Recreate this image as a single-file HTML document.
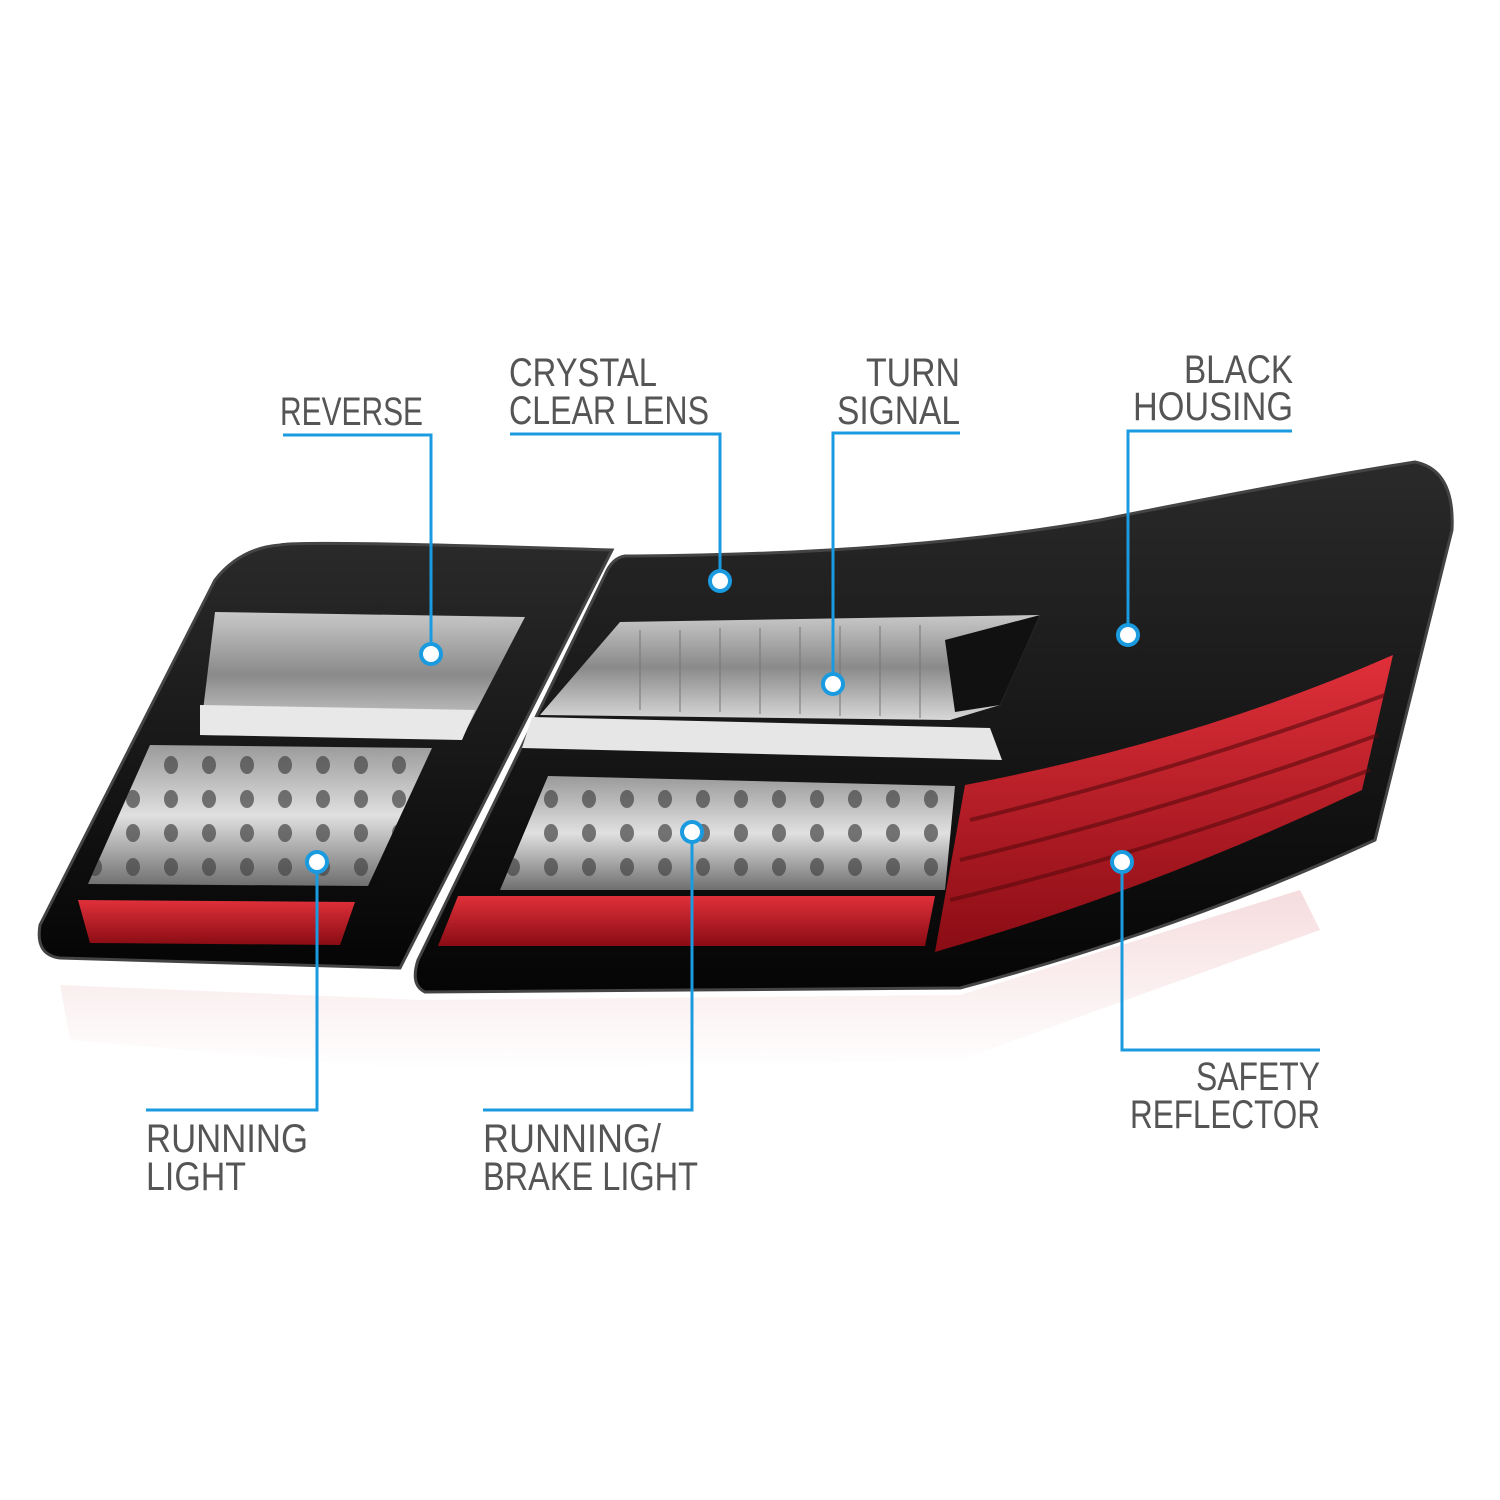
<!DOCTYPE html>
<html><head><meta charset="utf-8"><style>
html,body{margin:0;padding:0;background:#fff;}
svg{display:block;}
text{font-family:"Liberation Sans",sans-serif;font-size:40px;fill:#555;}
</style></head><body>
<svg width="1500" height="1500" viewBox="0 0 1500 1500" xmlns="http://www.w3.org/2000/svg">
<defs>
<linearGradient id="clear" x1="0" y1="0" x2="0" y2="1"><stop offset="0" stop-color="#c8c8c8"/><stop offset="0.5" stop-color="#8a8a8a"/><stop offset="1" stop-color="#d8d8d8"/></linearGradient>
<linearGradient id="led" x1="0" y1="0" x2="0" y2="1"><stop offset="0" stop-color="#9a9a9a"/><stop offset="0.5" stop-color="#e0e0e0"/><stop offset="1" stop-color="#6f6f6f"/></linearGradient>
<linearGradient id="red" x1="0" y1="0" x2="0" y2="1"><stop offset="0" stop-color="#e0303a"/><stop offset="1" stop-color="#8a0c14"/></linearGradient>
<linearGradient id="refl" x1="0" y1="0" x2="0" y2="1"><stop offset="0" stop-color="#f3d4d6"/><stop offset="1" stop-color="#ffffff"/></linearGradient>
<linearGradient id="blk" x1="0" y1="0" x2="0" y2="1"><stop offset="0" stop-color="#2a2a2a"/><stop offset="1" stop-color="#050505"/></linearGradient>
<pattern id="dots" width="38" height="34" patternUnits="userSpaceOnUse"><ellipse cx="19" cy="17" rx="7" ry="9" fill="#444" opacity="0.7"/></pattern>
</defs>
<path d="M60 985 L420 1000 L960 995 L1300 890 L1320 930 L960 1060 L420 1070 L70 1040 Z" fill="url(#refl)" opacity="0.8"/>
<!-- left housing -->
<path d="M280 545 Q300 540 612 550 L400 968 L60 958 Q35 955 40 925 L215 580 Q240 548 280 545 Z" fill="url(#blk)" stroke="#444" stroke-width="3"/>
<path d="M215 612 L525 617 L462 738 L200 735 Z" fill="url(#clear)"/>
<path d="M200 705 L475 710 L462 740 L200 735 Z" fill="#e8e8e8"/>
<path d="M150 745 L432 748 L368 886 L88 884 Z" fill="url(#led)"/>
<path d="M150 745 L432 748 L368 886 L88 884 Z" fill="url(#dots)"/>
<path d="M78 900 L355 902 L340 945 L90 943 Z" fill="url(#red)"/>
<!-- right housing -->
<path d="M625 556 Q900 555 1100 520 Q1300 480 1415 462 Q1455 470 1452 530 L1375 840 Q1180 930 960 988 L425 992 Q410 985 418 960 L605 575 Q612 558 625 556 Z" fill="url(#blk)" stroke="#444" stroke-width="3"/>
<path d="M620 622 L1040 615 L1000 705 L950 720 L540 715 Z" fill="url(#clear)"/>
<g stroke="#777" stroke-width="2" opacity="0.5">
<path d="M640 630 V710 M680 630 V712 M720 628 V712 M760 628 V714 M800 627 V714 M840 626 V716 M880 626 V716 M920 625 V718"/>
</g>
<path d="M945 640 L1040 615 L1000 705 L955 712 Z" fill="#111"/>
<path d="M532 717 L990 728 L1002 760 L522 748 Z" fill="#e6e6e6"/>
<path d="M548 776 L955 786 L945 890 L500 890 Z" fill="url(#led)"/>
<path d="M548 776 L955 786 L945 890 L500 890 Z" fill="url(#dots)"/>
<path d="M458 896 L935 896 L925 946 L438 946 Z" fill="url(#red)"/>
<path d="M965 785 Q1200 740 1393 655 L1362 790 Q1150 890 935 952 Z" fill="url(#red)"/>
<g stroke="#5a0a0e" stroke-width="4" fill="none" opacity="0.6">
<path d="M970 820 Q1180 770 1385 695"/><path d="M960 860 Q1170 810 1378 735"/><path d="M950 900 Q1160 850 1370 770"/>
</g>
<!-- callouts -->
<g stroke="#1a9be0" stroke-width="3" fill="none">
<polyline points="283,435 431,435 431,654"/>
<polyline points="510,434 720,434 720,581"/>
<polyline points="960,433 833,433 833,684"/>
<polyline points="1292,431 1128,431 1128,635"/>
<polyline points="1122,862 1122,1050 1320,1050"/>
<polyline points="692,832 692,1110 483,1110"/>
<polyline points="317,862 317,1110 146,1110"/>
</g>
<g fill="#fff" stroke="#1a9be0" stroke-width="4">
<circle cx="431" cy="654" r="10"/><circle cx="720" cy="581" r="10"/><circle cx="833" cy="684" r="10"/>
<circle cx="1128" cy="635" r="10"/><circle cx="1122" cy="862" r="10"/><circle cx="692" cy="832" r="10"/><circle cx="317" cy="862" r="10"/>
</g>
<text x="280" y="425" textLength="143" lengthAdjust="spacingAndGlyphs">REVERSE</text>
<text x="509" y="386" textLength="148" lengthAdjust="spacingAndGlyphs">CRYSTAL</text>
<text x="509" y="424" textLength="200" lengthAdjust="spacingAndGlyphs">CLEAR LENS</text>
<text x="866" y="386" textLength="94" lengthAdjust="spacingAndGlyphs">TURN</text>
<text x="837" y="424" textLength="123" lengthAdjust="spacingAndGlyphs">SIGNAL</text>
<text x="1184" y="383" textLength="109" lengthAdjust="spacingAndGlyphs">BLACK</text>
<text x="1133" y="420" textLength="160" lengthAdjust="spacingAndGlyphs">HOUSING</text>
<text x="1196" y="1090" textLength="124" lengthAdjust="spacingAndGlyphs">SAFETY</text>
<text x="1130" y="1128" textLength="190" lengthAdjust="spacingAndGlyphs">REFLECTOR</text>
<text x="483" y="1152" textLength="178" lengthAdjust="spacingAndGlyphs">RUNNING/</text>
<text x="483" y="1190" textLength="215" lengthAdjust="spacingAndGlyphs">BRAKE LIGHT</text>
<text x="146" y="1152" textLength="162" lengthAdjust="spacingAndGlyphs">RUNNING</text>
<text x="146" y="1190" textLength="100" lengthAdjust="spacingAndGlyphs">LIGHT</text>
</svg>
</body></html>
